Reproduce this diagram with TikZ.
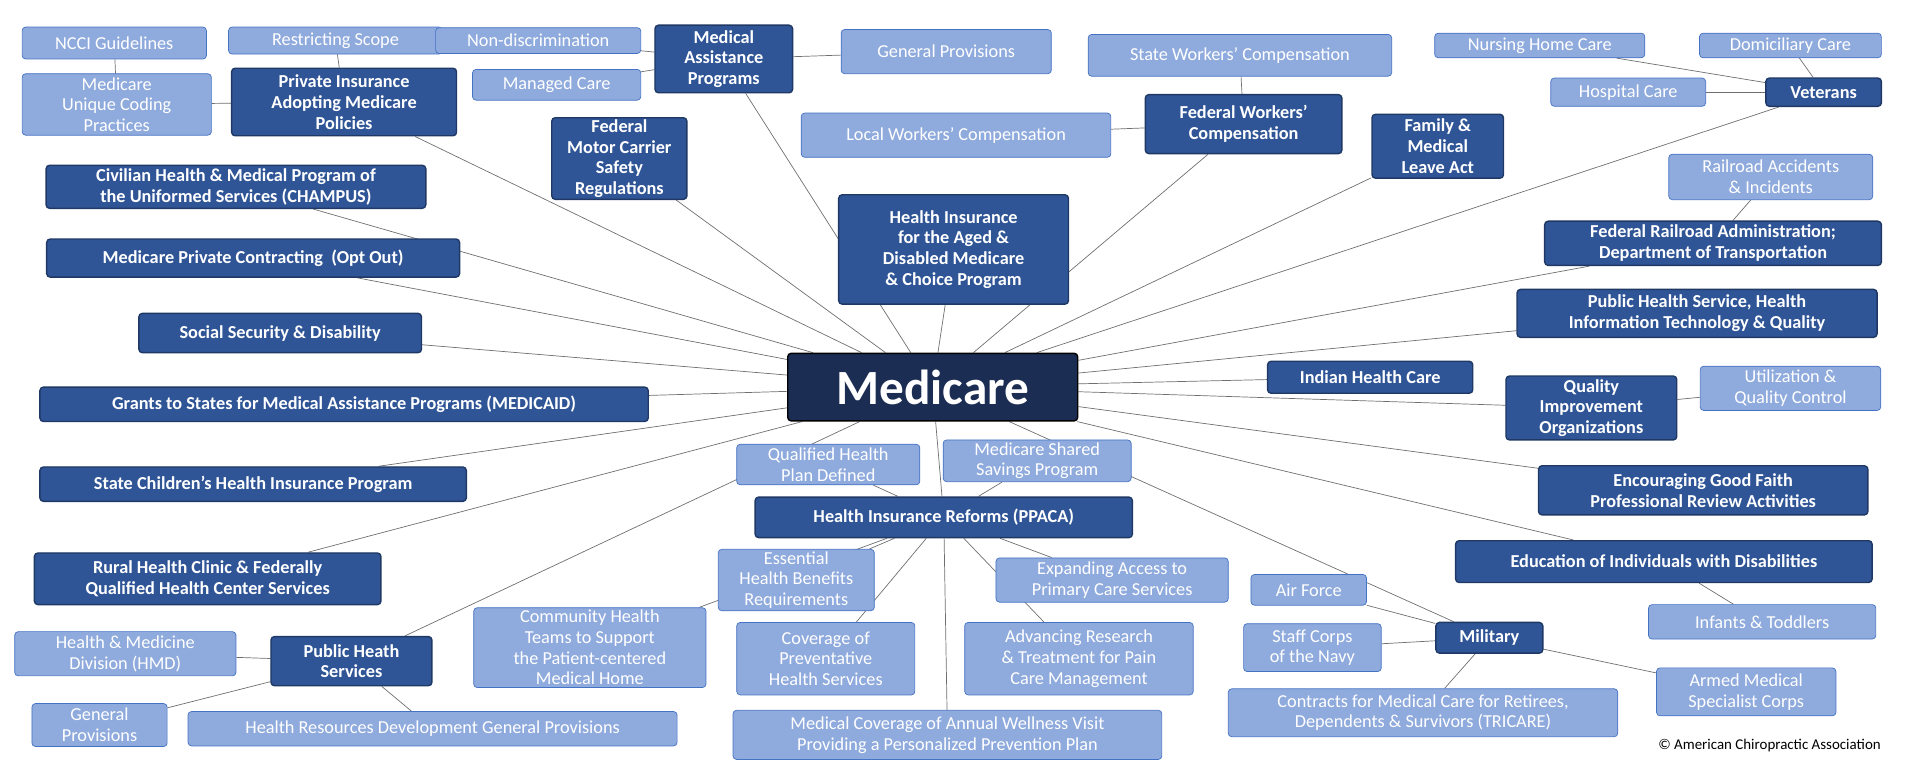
\documentclass[tikz,border=0pt]{standalone}
\usepackage{fontspec}
\setmainfont{Carlito}
\usetikzlibrary{backgrounds}
\definecolor{dkblue}{HTML}{2F5597}
\definecolor{dkline}{HTML}{1F3864}
\definecolor{ltblue}{HTML}{8FAADC}
\definecolor{ltline}{HTML}{4472C4}
\definecolor{core}{HTML}{1B2D52}
\definecolor{link}{HTML}{6F6F6F}
\begin{document}
\begin{tikzpicture}[x=0.02458cm,y=-0.02458cm]
 \tikzset{
  box/.style 2 args={minimum width=#1*0.02458cm,minimum height=#2*0.02458cm,inner sep=1pt,align=center,rounded corners=2pt},
  dk/.style={draw=dkline,thick,fill=dkblue,text=white,font=\fontsize{10.4}{11.8}\selectfont\bfseries},
  lt/.style={draw=ltline,fill=ltblue,text=white,font=\fontsize{10.4}{11.8}\selectfont},
  l/.style={draw=link,thin}
 }
 \useasboundingbox (0,0) rectangle (1560,630);
 % centre
 \node[box={236}{55},draw=black,thick,fill=core,text=white,font=\fontsize{28}{30}\selectfont\bfseries] (Medicare) at (759,315) {Medicare};
 % upper left
 \node[lt,box={150}{26}] (NCCI) at (93,35) {NCCI Guidelines};
 \node[lt,box={174}{22}] (Scope) at (273,33) {Restricting Scope};
 \node[lt,box={154}{50}] (Coding) at (95,85) {Medicare\\Unique Coding\\Practices};
 \node[dk,box={183}{55}] (Private) at (280,83) {Private Insurance\\Adopting Medicare\\Policies};
 \node[lt,box={167}{21}] (NonDisc) at (438,33) {Non-discrimination};
 \node[lt,box={137}{25}] (Managed) at (453,69) {Managed Care};
 \node[dk,box={112}{55}] (MAP) at (589,48) {Medical\\Assistance\\Programs};
 \node[lt,box={171}{36}] (GenProv) at (770,42) {General Provisions};
 \node[dk,box={110}{65}] (Motor) at (504,129) {Federal\\Motor Carrier\\Safety\\Regulations};
 % left column
 \node[dk,box={309}{35}] (CHAMPUS) at (192,152) {Civilian Health \& Medical Program of\\the Uniformed Services (CHAMPUS)};
 \node[dk,box={336}{31}] (OptOut) at (206,210) {Medicare Private Contracting\ \ (Opt Out)};
 \node[dk,box={230}{32}] (SocSec) at (228,271) {Social Security \& Disability};
 \node[dk,box={495}{28}] (Medicaid) at (280,329) {Grants to States for Medical Assistance Programs (MEDICAID)};
 \node[dk,box={347}{28}] (SCHIP) at (206,394) {State Children’s Health Insurance Program};
 \node[dk,box={282}{42}] (Rural) at (169,471) {Rural Health Clinic \& Federally\\Qualified Health Center Services};
 % public health services
 \node[lt,box={180}{36}] (HMD) at (102,532) {Health \& Medicine\\Division (HMD)};
 \node[dk,box={131}{40}] (PHS) at (286,538) {Public Heath\\Services};
 \node[lt,box={110}{35}] (GenProv2) at (81,590) {General\\Provisions};
 \node[lt,box={398}{28}] (Resources) at (352,593) {Health Resources Development General Provisions};
 % PPACA
 \node[lt,box={189}{65}] (Community) at (480,527) {Community Health\\Teams to Support\\the Patient-centered\\Medical Home};
 \node[lt,box={149}{33}] (QHP) at (674,378) {Qualified Health\\Plan Defined};
 \node[lt,box={153}{34}] (Shared) at (844,375) {Medicare Shared\\Savings Program};
 \node[dk,box={307}{33}] (PPACA) at (768,421) {Health Insurance Reforms (PPACA)};
 \node[lt,box={127}{50}] (Essential) at (648,472) {Essential\\Health Benefits\\Requirements};
 \node[lt,box={189}{36}] (Primary) at (905,472) {Expanding Access to\\Primary Care Services};
 \node[lt,box={145}{59}] (Prevent) at (672,536) {Coverage of\\Preventative\\Health Services};
 \node[lt,box={186}{59}] (Pain) at (878,536) {Advancing Research\\\& Treatment for Pain\\Care Management};
 \node[lt,box={349}{40}] (Wellness) at (771,598) {Medical Coverage of Annual Wellness Visit\\Providing a Personalized Prevention Plan};
 % top middle
 \node[dk,box={187}{89}] (Aged) at (776,203) {Health Insurance\\for the Aged \&\\Disabled Medicare\\\& Choice Program};
 \node[lt,box={247}{34}] (StateWC) at (1009,45) {State Workers’ Compensation};
 \node[lt,box={252}{36}] (LocalWC) at (778,110) {Local Workers’ Compensation};
 \node[dk,box={160}{48}] (FedWC) at (1012,101) {Federal Workers’\\Compensation};
 \node[dk,box={107}{52}] (FMLA) at (1170,119) {Family \&\\Medical\\Leave Act};
 % right
 \node[lt,box={171}{20}] (Nursing) at (1253,37) {Nursing Home Care};
 \node[lt,box={148}{20}] (Domic) at (1457,37) {Domiciliary Care};
 \node[lt,box={126}{23}] (Hospital) at (1325,75) {Hospital Care};
 \node[dk,box={94}{23}] (Veterans) at (1484,75) {Veterans};
 \node[lt,box={166}{37}] (Railroad) at (1441,144) {Railroad Accidents\\\& Incidents};
 \node[dk,box={274}{36}] (FRA) at (1394,198) {Federal Railroad Administration;\\Department of Transportation};
 \node[dk,box={293}{39}] (PHSIT) at (1381,255) {Public Health Service, Health\\Information Technology \& Quality};
 \node[dk,box={167}{26}] (Indian) at (1115,307) {Indian Health Care};
 \node[dk,box={139}{52}] (QIO) at (1295,332) {Quality\\Improvement\\Organizations};
 \node[lt,box={147}{36}] (Util) at (1457,316) {Utilization \&\\Quality Control};
 \node[dk,box={268}{40}] (Faith) at (1386,399) {Encouraging Good Faith\\Professional Review Activities};
 \node[dk,box={339}{34}] (Educ) at (1354,457) {Education of Individuals with Disabilities};
 \node[lt,box={185}{28}] (Infants) at (1434,506) {Infants \& Toddlers};
 % military
 \node[lt,box={94}{25}] (AirForce) at (1065,480) {Air Force};
 \node[lt,box={112}{39}] (Navy) at (1068,527) {Staff Corps\\of the Navy};
 \node[dk,box={87}{25}] (Military) at (1212,519) {Military};
 \node[lt,box={146}{39}] (Armed) at (1421,563) {Armed Medical\\Specialist Corps};
 \node[lt,box={317}{39}] (Tricare) at (1158,580) {Contracts for Medical Care for Retirees,\\Dependents \& Survivors (TRICARE)};
 \node[font=\fontsize{8.5}{9.5}\selectfont,inner sep=0pt] (Credit) at (1440,607) {© American Chiropractic Association};
 \begin{scope}[on background layer]
 % links to the centre
 \foreach \n in {Private,MAP,Motor,CHAMPUS,OptOut,SocSec,Medicaid,SCHIP,Rural,PHS,Aged,FedWC,FMLA,Veterans,FRA,PHSIT,Indian,QIO,Faith,Educ,Military,PPACA}
  \path[l] (Medicare) -- (\n);
 % branch links
 \path[l] (NCCI) -- (Coding);
 \path[l] (Coding) -- (Private);
 \path[l] (Scope) -- (Private);
 \path[l] (NonDisc) -- (MAP);
 \path[l] (Managed) -- (MAP);
 \path[l] (GenProv) -- (MAP);
 \path[l] (StateWC) -- (FedWC);
 \path[l] (LocalWC) -- (FedWC);
 \path[l] (Nursing) -- (Veterans);
 \path[l] (Domic) -- (Veterans);
 \path[l] (Hospital) -- (Veterans);
 \path[l] (Railroad) -- (FRA);
 \path[l] (Util) -- (QIO);
 \path[l] (Infants) -- (Educ);
 \path[l] (AirForce) -- (Military);
 \path[l] (Navy) -- (Military);
 \path[l] (Armed) -- (Military);
 \path[l] (Tricare) -- (Military);
 \path[l] (HMD) -- (PHS);
 \path[l] (GenProv2) -- (PHS);
 \path[l] (Resources) -- (PHS);
 \path[l] (QHP) -- (PPACA);
 \path[l] (Shared) -- (PPACA);
 \path[l] (Essential) -- (PPACA);
 \path[l] (Primary) -- (PPACA);
 \path[l] (Prevent) -- (PPACA);
 \path[l] (Pain) -- (PPACA);
 \path[l] (Wellness) -- (PPACA);
 \path[l] (Community) -- (PPACA);
 \end{scope}
\end{tikzpicture}
\end{document}
